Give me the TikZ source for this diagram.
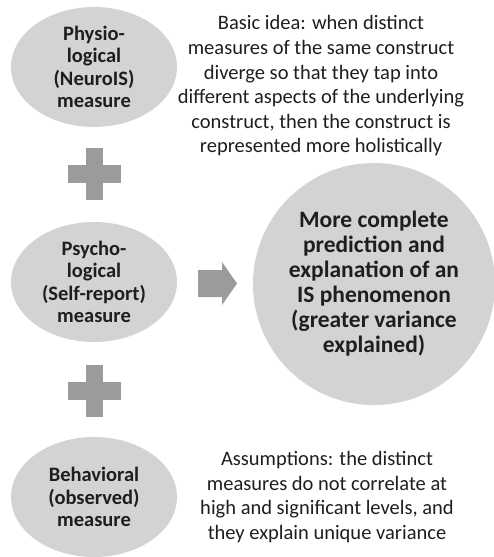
\documentclass[tikz,border=0pt]{standalone}
\usepackage{fontspec}
\setmainfont{Carlito}
\usetikzlibrary{shapes.geometric}
\definecolor{bubble}{HTML}{D3D3D3}
\definecolor{sign}{HTML}{9B9B9B}
\definecolor{ink}{HTML}{1E1E1E}
\begin{document}
\begin{tikzpicture}[x=1pt,y=-1pt,
  measure/.style={ellipse,fill=bubble,draw=none,minimum width=166pt,minimum height=120pt,
    inner sep=0pt,align=center,text=ink,font=\fontsize{20.5}{22.5}\selectfont\bfseries},
  outcome/.style={circle,fill=bubble,draw=none,minimum size=242pt,inner sep=0pt,
    align=center,text=ink,font=\fontsize{23.5}{25}\selectfont\bfseries},
  note/.style={align=center,text=ink,inner sep=0pt,font=\fontsize{20.5}{24.6}\selectfont},
  plusbar/.style={fill=sign,draw=none}]
\useasboundingbox (0,0) rectangle (494,557);

% three kinds of measures
\node[measure] (phys) at (94,67) {Physio-\\logical\\(NeuroIS)\\measure};
\node[measure] (psych) at (94,282) {Psycho-\\logical\\(Self-report)\\measure};
\node[measure] (behav) at (94,497) {Behavioral\\(observed)\\measure};

% plus signs between the measures
\foreach \n/\cy in {plusA/174,plusB/391}{
  \coordinate (\n) at (94,\cy);
  \fill[plusbar] ([xshift=-26.5pt,yshift=9pt]\n) rectangle ([xshift=26.5pt,yshift=-9pt]\n);
  \fill[plusbar] ([xshift=-8.5pt,yshift=26pt]\n) rectangle ([xshift=8.5pt,yshift=-26pt]\n);
}

% outcome
\node[outcome] (out) at (374,284) {More complete\\prediction and\\explanation of an\\IS phenomenon\\(greater variance\\explained)};

% block arrow towards the outcome
\coordinate (arr) at (198,283.5);
\fill[sign] (arr) ++(0,-13.5) -- ++(24,0) -- ++(0,-8) -- ++(15,21.5) -- ++(-15,21.5)
  -- ++(0,-8) -- ++(-24,0) -- cycle;

% explanatory notes
\node[note] (idea) at (321,86) {Basic idea: when distinct\\measures of the same construct\\diverge so that they tap into\\different aspects of the underlying\\construct, then the construct is\\represented more holistically};
\node[note] (assume) at (327,497) {Assumptions: the distinct\\measures do not correlate at\\high and significant levels, and\\they explain unique variance};
\end{tikzpicture}
\end{document}
